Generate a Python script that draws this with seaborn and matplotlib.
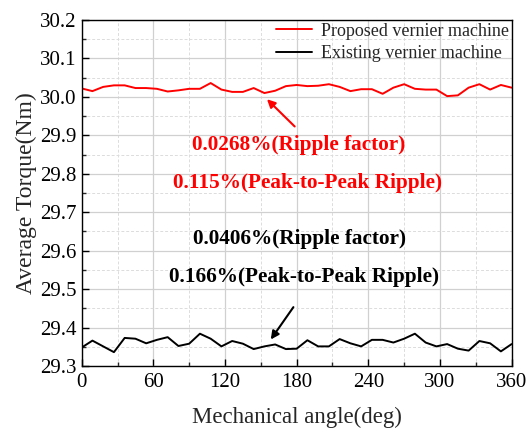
import numpy as np
import pandas as pd
import matplotlib
matplotlib.use("Agg")
import matplotlib.pyplot as plt
from matplotlib.ticker import MultipleLocator
import seaborn as sns

# angle samples (deg)
angle = list(range(0, 361, 9))

proposed = [30.022, 30.015, 30.026, 30.030, 30.030, 30.023, 30.023, 30.021, 30.014, 30.017,
            30.021, 30.021, 30.036, 30.019, 30.013, 30.013, 30.023, 30.010, 30.016, 30.028,
            30.031, 30.028, 30.029, 30.033, 30.026, 30.015, 30.020, 30.020, 30.008, 30.024,
            30.033, 30.021, 30.019, 30.019, 30.002, 30.004, 30.024, 30.033, 30.019, 30.031,
            30.024]

existing = [29.348, 29.366, 29.351, 29.336, 29.373, 29.371, 29.359, 29.368, 29.375, 29.352,
            29.358, 29.384, 29.371, 29.351, 29.365, 29.358, 29.344, 29.351, 29.356, 29.344,
            29.345, 29.367, 29.351, 29.351, 29.370, 29.359, 29.351, 29.368, 29.368, 29.361,
            29.371, 29.384, 29.361, 29.351, 29.357, 29.345, 29.340, 29.365, 29.359, 29.338,
            29.357]

series_names = ["Proposed vernier machine", "Existing vernier machine"]
series_colors = ["#ff0000", "#000000"]

df = pd.DataFrame({
    "angle": angle * 2,
    "torque": proposed + existing,
    "machine": [series_names[0]] * len(angle) + [series_names[1]] * len(angle),
})

sns.set_theme(style="white")
plt.rcParams["font.family"] = ["Liberation Serif", "DejaVu Serif"]

fig = plt.figure(figsize=(5.28, 4.32), dpi=100)
ax = fig.add_axes([0.1547, 0.1528, 0.8143, 0.8009])

sns.lineplot(data=df, x="angle", y="torque", hue="machine", hue_order=series_names,
             palette=series_colors, linewidth=1.4, ax=ax)

ax.set_xlim(0, 360)
ax.set_ylim(29.3, 30.2)
ax.xaxis.set_major_locator(MultipleLocator(60))
ax.xaxis.set_minor_locator(MultipleLocator(30))
ax.yaxis.set_major_locator(MultipleLocator(0.1))
ax.yaxis.set_minor_locator(MultipleLocator(0.05))
ax.set_yticklabels([f"{v:.1f}" for v in ax.get_yticks()])

ax.grid(which="major", color="#d0d0d0", linewidth=0.9)
ax.grid(which="minor", color="#dcdcdc", linewidth=0.7, linestyle=(0, (3, 2)))
ax.set_axisbelow(True)

ax.tick_params(which="major", direction="in", length=5, width=1, labelsize=15,
               bottom=True, left=True, top=False, right=False, colors="black")
ax.tick_params(which="minor", direction="in", length=3, width=1,
               bottom=True, left=True, top=False, right=False)
ax.tick_params(axis="x", pad=5)
ax.tick_params(axis="y", pad=4)
for s in ax.spines.values():
    s.set_color("black")
    s.set_linewidth(1.0)

ax.set_xlabel("Mechanical angle(deg)", fontsize=16.5, labelpad=11)
ax.set_ylabel("Average Torque(Nm)", fontsize=17, labelpad=2)

leg = ax.legend(loc="upper right", frameon=False, fontsize=13, handlelength=2.0,
                borderaxespad=0.0, borderpad=0.15, labelspacing=0.3, handletextpad=0.5)

# annotations
ax.annotate("", xy=(153.5, 29.999), xytext=(180, 29.918),
            arrowprops=dict(arrowstyle="-|>", color="#ff0000", lw=1.5, mutation_scale=12))
ax.annotate("", xy=(157, 29.363), xytext=(178.6, 29.459),
            arrowprops=dict(arrowstyle="-|>", color="black", lw=1.5, mutation_scale=12))

ax.text(182, 29.875, "0.0268%(Ripple factor)", color="#ff0000", fontsize=15.3,
        fontweight="bold", ha="center", va="center")
ax.text(189, 29.775, "0.115%(Peak-to-Peak Ripple)", color="#ff0000", fontsize=15.3,
        fontweight="bold", ha="center", va="center")
ax.text(182, 29.630, "0.0406%(Ripple factor)", color="black", fontsize=15.3,
        fontweight="bold", ha="center", va="center")
ax.text(186, 29.532, "0.166%(Peak-to-Peak Ripple)", color="black", fontsize=15.3,
        fontweight="bold", ha="center", va="center")

fig.savefig("out.png", dpi=100)
